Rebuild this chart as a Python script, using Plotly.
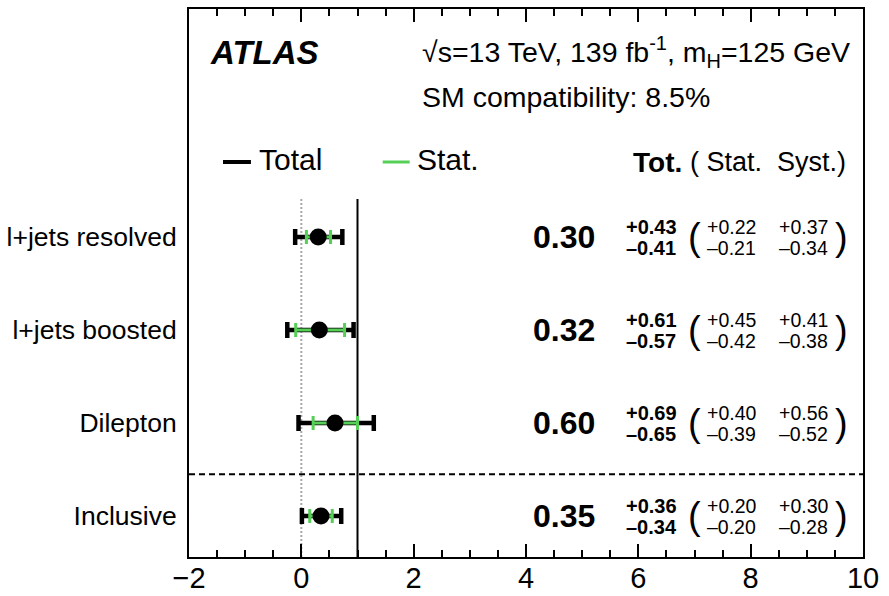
import plotly.graph_objects as go

# ---- data ----
categories = ["l+jets resolved", "l+jets boosted", "Dilepton", "Inclusive"]
row_pos = [3, 2, 1, 0]
mu = [0.30, 0.32, 0.60, 0.35]
tot_up = [0.43, 0.61, 0.69, 0.36]
tot_dn = [0.41, 0.57, 0.65, 0.34]
stat_up = [0.22, 0.45, 0.40, 0.20]
stat_dn = [0.21, 0.42, 0.39, 0.20]
syst_up = [0.37, 0.41, 0.56, 0.30]
syst_dn = [0.34, 0.38, 0.52, 0.28]
x_ticks = [-2, 0, 2, 4, 6, 8, 10]

SM = 1.0
X_RANGE = [-2, 10]
Y_RANGE = [-0.441, 5.452]
SEP_Y = 0.45
VLINE_TOP = 3.41

GREEN = "#55cf55"
FONT = "Liberation Sans, Arial, Helvetica, sans-serif"

fig = go.Figure()

# total uncertainty
fig.add_trace(go.Scatter(
    x=mu, y=row_pos, mode="markers",
    marker=dict(size=1, color="rgba(0,0,0,0)"),
    error_x=dict(type="data", symmetric=False, array=tot_up, arrayminus=tot_dn,
                 color="black", thickness=4.5, width=8),
    showlegend=False, hoverinfo="skip"))
# stat uncertainty + central value
fig.add_trace(go.Scatter(
    x=mu, y=row_pos, mode="markers",
    marker=dict(size=17, color="black"),
    error_x=dict(type="data", symmetric=False, array=stat_up, arrayminus=stat_dn,
                 color=GREEN, thickness=3, width=7),
    showlegend=False, hoverinfo="skip"))

shapes = [
    dict(type="line", xref="x", yref="y", x0=0, x1=0, y0=Y_RANGE[0], y1=VLINE_TOP,
         line=dict(color="#a8a8a8", width=2, dash="2px,2px"), layer="below"),
    dict(type="line", xref="x", yref="y", x0=SM, x1=SM, y0=Y_RANGE[0], y1=VLINE_TOP,
         line=dict(color="black", width=2), layer="below"),
    dict(type="line", xref="paper", yref="y", x0=0, x1=1, y0=SEP_Y, y1=SEP_Y,
         line=dict(color="black", width=2, dash="6px,4px")),
    # legend glyphs
    dict(type="line", xref="paper", yref="paper", x0=0.0504, x1=0.0919, y0=0.7208, y1=0.7208,
         line=dict(color="black", width=4)),
    dict(type="line", xref="paper", yref="paper", x0=0.2874, x1=0.3274, y0=0.7208, y1=0.7208,
         line=dict(color=GREEN, width=3)),
]

ann = []
def add(text, x, y, size, xanchor="left", xref="paper", yref="paper", yshift=0, yanchor="middle"):
    ann.append(dict(text=text, x=x, y=y, xref=xref, yref=yref, xanchor=xanchor,
                    yanchor=yanchor, yshift=yshift, showarrow=False,
                    font=dict(size=size, color="black", family=FONT)))

add("<b><i>ATLAS</i></b>", 0.0281, 0.9215, 33)
add("√s=13 TeV, 139 fb<sup>-1</sup>, m<sub>H</sub>=125 GeV", 0.342, 0.9215, 28.5)
add("SM compatibility: 8.5%", 0.342, 0.839, 28.5)
add("Total", 0.1007, 0.7245, 30)
add("Stat.", 0.3348, 0.7245, 30)
add("<b>Tot.</b>", 0.734, 0.7208, 28, xanchor="right")
add("( Stat.\u00a0\u00a0Syst.)", 0.741, 0.7208, 27)

def fmt(v):
    return f"{v:.2f}"

for i, yv in enumerate(row_pos):
    add(f"<b>{fmt(mu[i])}</b>", 5.271, yv, 32, xanchor="right", xref="x", yref="y")
    add(f"<b>+{fmt(tot_up[i])}</b>", 5.751, yv, 20, xref="x", yref="y", yshift=10)
    add(f"<b>–{fmt(tot_dn[i])}</b>", 5.751, yv, 20, xref="x", yref="y", yshift=-11)
    add("(", 6.996, yv, 38, xanchor="center", xref="x", yref="y")
    add(f"+{fmt(stat_up[i])}", 7.19, yv, 19.5, xref="x", yref="y", yshift=10)
    add(f"–{fmt(stat_dn[i])}", 7.19, yv, 19.5, xref="x", yref="y", yshift=-11)
    add(f"+{fmt(syst_up[i])}", 8.46, yv, 19.5, xref="x", yref="y", yshift=10)
    add(f"–{fmt(syst_dn[i])}", 8.46, yv, 19.5, xref="x", yref="y", yshift=-11)
    add(")", 9.62, yv, 38, xanchor="center", xref="x", yref="y")

fig.update_layout(
    width=889, height=596,
    margin=dict(l=189, r=26, t=9, b=39),
    paper_bgcolor="white", plot_bgcolor="white",
    shapes=shapes, annotations=ann,
    font=dict(family=FONT, color="black"),
    xaxis=dict(range=X_RANGE, tickvals=x_ticks, ticks="inside", ticklen=13, tickwidth=1.5,
               tickcolor="black", showline=True, linecolor="black", linewidth=2,
               mirror="allticks", showgrid=False, zeroline=False, automargin=False,
               ticklabelstandoff=-6,
               tickfont=dict(size=29, family=FONT, color="black"),
               minor=dict(dtick=0.5, ticks="inside", ticklen=7, tickwidth=1.5,
                          tickcolor="black", showgrid=False)),
    yaxis=dict(range=Y_RANGE, tickvals=row_pos, ticktext=categories, ticks="",
               showline=True, linecolor="black", linewidth=2, mirror=True,
               showgrid=False, zeroline=False, ticklabelstandoff=5, automargin=False,
               tickfont=dict(size=26.5, family=FONT, color="black")),
)

fig.write_html("out.html")
